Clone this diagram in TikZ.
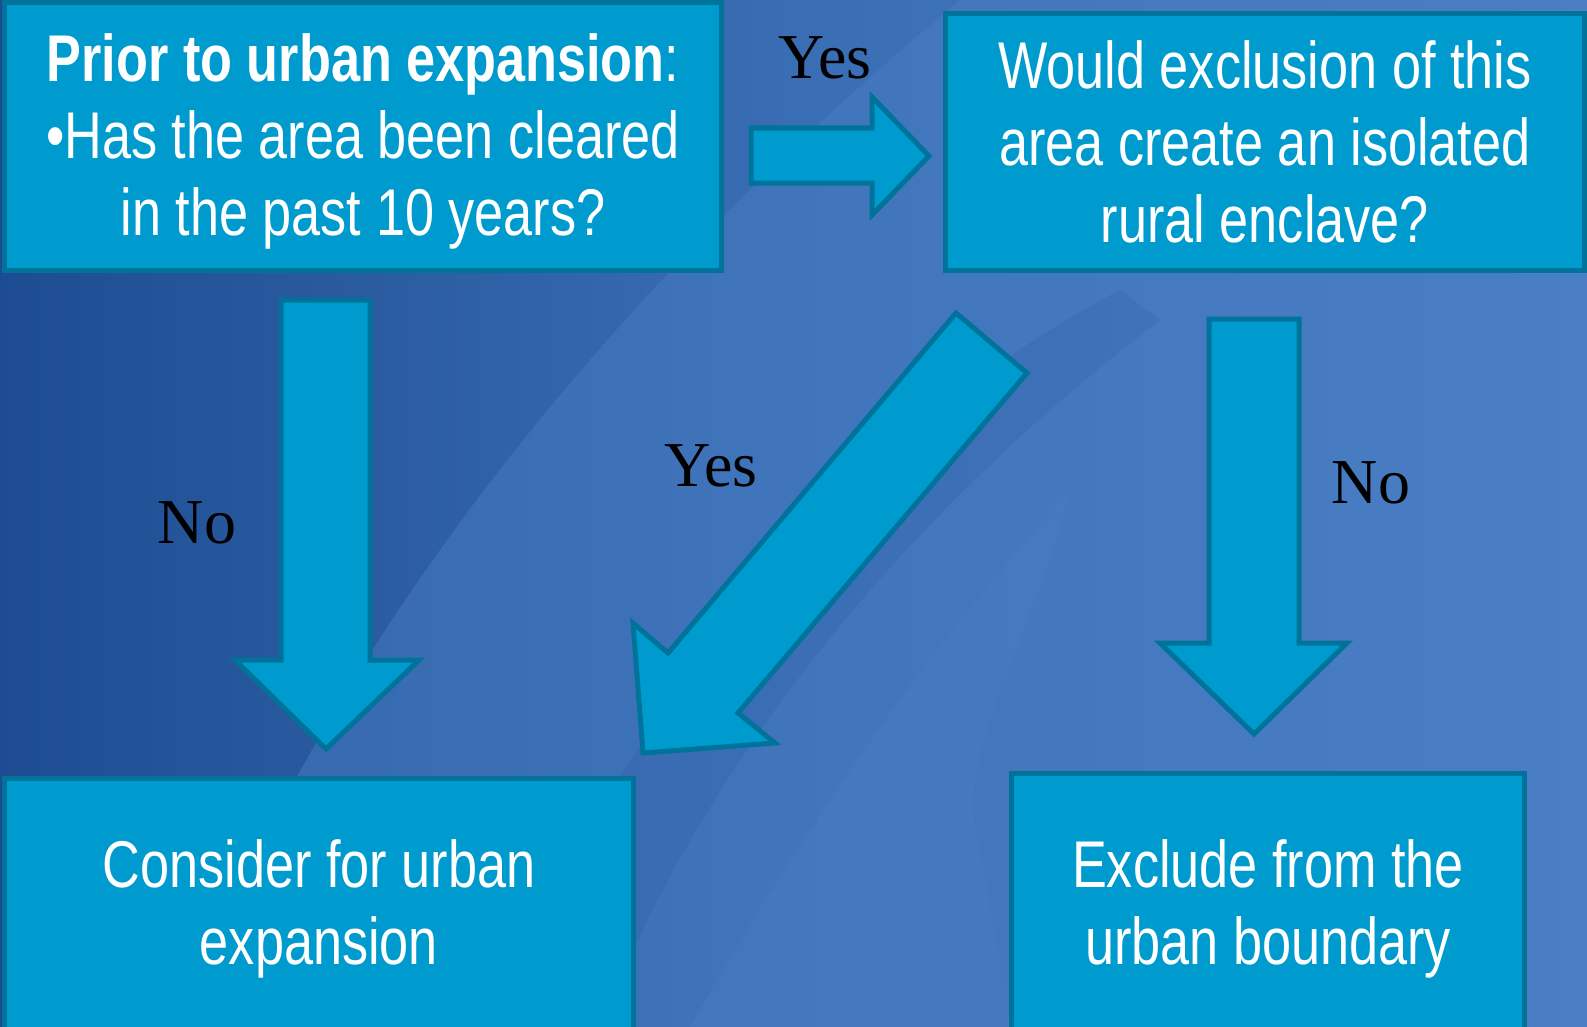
\documentclass[tikz,border=0pt]{standalone}
\usepackage{fontspec}
\setmainfont{Liberation Sans}[FakeStretch=0.79]
\newfontfamily\labelfont{Liberation Serif}
\definecolor{bgdark}{HTML}{1D4C92}
\definecolor{bgmid}{HTML}{3A6EB4}
\definecolor{bglight}{HTML}{4A7FC5}
\definecolor{myblue}{HTML}{009BCE}
\definecolor{myedge}{HTML}{00739A}
\usetikzlibrary{positioning}

\begin{document}
\begin{tikzpicture}[x=0.01cm,y=-0.01cm,
    box/.style={draw=myedge,fill=myblue,line width=0.5mm,inner sep=0pt,
      text=white,align=center,font=\fontsize{18.8}{21.9}\selectfont},
    blockarrow/.style={draw=myedge,fill=myblue,line width=0.5mm,line join=miter},
    answer/.style={font=\labelfont\fontsize{18.2}{20}\selectfont,text=black,inner sep=0pt}]
        % Background
        \useasboundingbox (0,0) rectangle (1587,1027);
        \shade[left color=bgdark,right color=bglight,middle color=bgmid] (0,0) rectangle (1587,1027);
        \fill[bglight,opacity=0.45] (180,1027) .. controls (330,640) and (600,300) .. (960,0)
            -- (1587,0) -- (1587,1027) -- cycle;
        \fill[bgdark,opacity=0.15] (480,1027) .. controls (640,700) and (850,430) .. (1120,290)
            -- (1160,320) .. controls (950,480) and (720,720) .. (600,1027) -- cycle;
        \fill[bglight,opacity=0.35] (690,1027) .. controls (820,800) and (950,620) .. (1068,495)
            .. controls (1040,620) and (960,740) .. (975,830) .. controls (990,900) and (1000,960) .. (1010,1027) -- cycle;

        % Boxes
        \node[box,minimum width=7.16cm,minimum height=2.67cm,text depth=0.04cm] (prior) at (363,136.5)
            {\textbf{Prior to urban expansion}:\\•Has the area been cleared\\in the past 10 years?};
        \node[box,minimum width=6.38cm,minimum height=2.56cm] (enclave) at (1265,142)
            {Would exclusion of this\\area create an isolated\\rural enclave?};
        \node[box,minimum width=6.28cm,minimum height=2.6cm] (consider) at (319,909)
            {Consider for urban\\expansion};
        \node[box,minimum width=5.13cm,minimum height=2.6cm,text depth=0.04cm] (exclude) at (1268,904)
            {Exclude from the\\urban boundary};

        % Arrows
        \draw[blockarrow] (751,128) -- (872,128) -- (872,97) -- (929,156) -- (872,215)
            -- (872,183) -- (751,183) -- cycle;
        \draw[blockarrow] (281,300) -- (370,300) -- (370,660) -- (419,660) -- (326,749)
            -- (235,660) -- (281,660) -- cycle;
        \draw[blockarrow] (1209,319) -- (1299,319) -- (1299,643) -- (1347,643) -- (1254,734)
            -- (1160,643) -- (1209,643) -- cycle;
        \draw[blockarrow] (956,313) -- (1027,373) -- (738,713) -- (775,743) -- (643,753)
            -- (633,623) -- (668,653) -- cycle;

        % Answers
        \node[answer] (yestop) at (825,58) {Yes};
        \node[answer] (yesmid) at (711,466) {Yes};
        \node[answer] (noleft) at (197,523) {No};
        \node[answer] (noright) at (1371,483) {No};
\end{tikzpicture}
\end{document}
